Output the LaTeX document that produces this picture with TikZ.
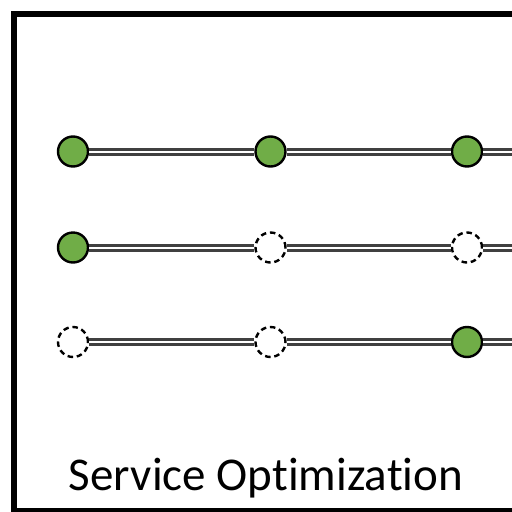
\documentclass[tikz,border=0pt]{standalone}
\usepackage{fontspec}
\setmainfont[Ligatures=NoCommon,RawFeature=-liga]{Carlito}
\definecolor{leafgreen}{HTML}{70AD47}
\definecolor{railgray}{HTML}{404040}
\begin{document}
\begin{tikzpicture}[x=1pt,y=-1pt,
  slot/.style={circle,draw=black,line width=2.4pt,minimum size=30pt,inner sep=0pt},
  filled/.style={slot,fill=leafgreen},
  empty/.style={slot,fill=white,dash pattern=on 5.5pt off 3.8pt},
  rail/.style={draw=railgray,line width=3pt,double=white,double distance=2pt}]
\useasboundingbox (0,0) rectangle (512,512);
\clip (0,0) rectangle (512,512);
% outer frame, partly running off the page
\draw[line width=6pt] (14,14) rectangle (518,511);
% right ends of the rails
\coordinate (e1) at (530,151.5);
\coordinate (e2) at (530,247.5);
\coordinate (e3) at (530,342);
% row 1
\node[filled] (a1) at (73,151.5) {};
\node[filled] (a2) at (270.5,151.5) {};
\node[filled] (a3) at (467,151.5) {};
% row 2
\node[filled] (b1) at (73,247.5) {};
\node[empty] (b2) at (270.5,247.5) {};
\node[empty] (b3) at (467,247.5) {};
% row 3
\node[empty] (c1) at (73,342) {};
\node[empty] (c2) at (270.5,342) {};
\node[filled] (c3) at (467,342) {};
% rails between the slots
\foreach \r in {a,b,c}{
  \draw[rail] (\r1) -- (\r2);
  \draw[rail] (\r2) -- (\r3);
}
\draw[rail] (a3) -- (e1);
\draw[rail] (b3) -- (e2);
\draw[rail] (c3) -- (e3);
% caption
\node[anchor=base,font=\fontsize{47}{56}\selectfont,inner sep=0pt] (cap) at (266,490) {Service Optimization};
\end{tikzpicture}
\end{document}
